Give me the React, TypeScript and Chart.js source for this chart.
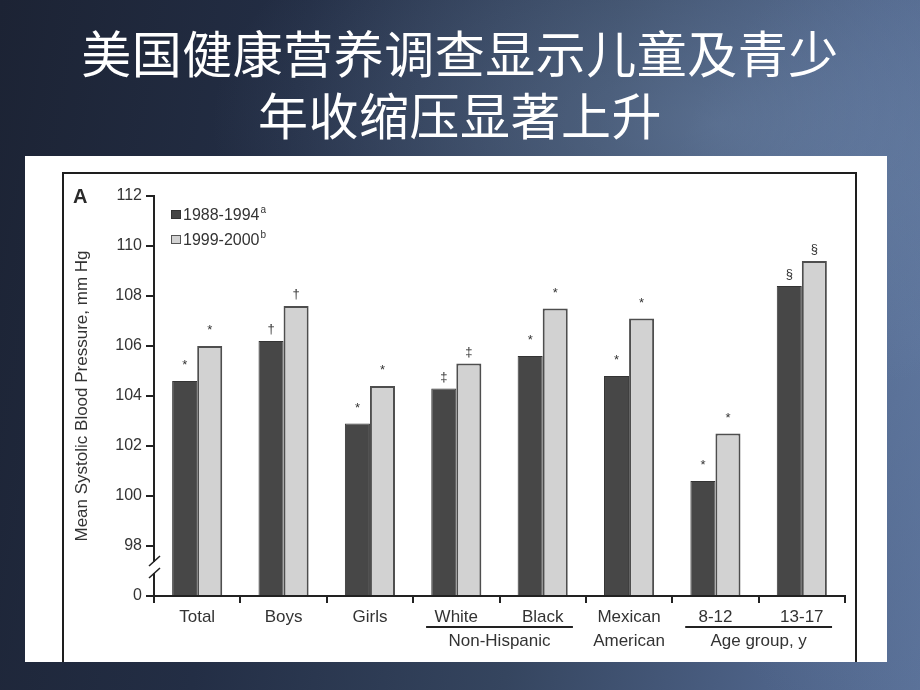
import React, { useEffect, useRef } from 'react';
import { Chart, registerables } from 'chart.js';

Chart.register(...registerables);

// ---- data ----
const titleLines = ['美国健康营养调查显示儿童及青少', '年收缩压显著上升'];
const categories = ['Total', 'Boys', 'Girls', 'White', 'Black', 'Mexican', '8-12', '13-17'];
const seriesNames = ['1988-1994', '1999-2000'];
const seriesSup = ['a', 'b'];
const values1988 = [104.6, 106.2, 102.9, 104.3, 105.6, 104.8, 100.6, 108.4];
const values1999 = [106.0, 107.6, 104.4, 105.3, 107.5, 107.1, 102.5, 109.4];
const marks1988 = ['*', '†', '*', '‡', '*', '*', '*', '§'];
const marks1999 = ['*', '†', '*', '‡', '*', '*', '*', '§'];
const yMin = 96;
const yMax = 112;
const yStep = 2;
const yBreakLabel = '0';
const yTitle = 'Mean Systolic Blood Pressure, mm Hg';
const panelLetter = 'A';
const groupNames = ['Non-Hispanic', 'American', 'Age group, y'];
const groupFrom = [3, 5, 6];
const groupTo = [4, 5, 7];
const groupUnderline = [true, false, true];

const FONT = '"Liberation Sans", Arial, Helvetica, sans-serif';
const TEXT = '#333333';
const AXIS = '#222222';

const overlayPlugin = {
  id: 'overlay',
  afterDatasetsDraw(chart: any) {
    const ctx = chart.ctx as CanvasRenderingContext2D;
    const area = chart.chartArea;
    const xs = chart.scales.x;
    const ys = chart.scales.y;
    ctx.save();

    // significance marks
    [marks1988, marks1999].forEach((marks, di) => {
      const meta = chart.getDatasetMeta(di);
      meta.data.forEach((bar: any, i: number) => {
        const m = marks[i];
        const off = m === '*' ? 12 : 8;
        ctx.font = `13px ${FONT}`;
        ctx.fillStyle = TEXT;
        ctx.textAlign = 'center';
        ctx.textBaseline = 'alphabetic';
        ctx.fillText(m, bar.x, bar.y - off);
      });
    });

    // axis break
    const ax = area.left;
    const c = ys.getPixelForValue(97.16);
    ctx.fillStyle = '#ffffff';
    ctx.fillRect(ax - 3, c - 5, 7, 11);
    ctx.strokeStyle = AXIS;
    ctx.lineWidth = 1.6;
    ctx.beginPath();
    ctx.moveTo(ax - 5, c - 1);
    ctx.lineTo(ax + 6, c - 11);
    ctx.moveTo(ax - 5, c + 11);
    ctx.lineTo(ax + 6, c + 1);
    ctx.stroke();

    // group labels
    const catW = (area.right - area.left) / categories.length;
    groupNames.forEach((name, g) => {
      const x1 = xs.getPixelForValue(groupFrom[g]);
      const x2 = xs.getPixelForValue(groupTo[g]);
      const cx = (x1 + x2) / 2;
      ctx.font = `17px ${FONT}`;
      ctx.fillStyle = TEXT;
      ctx.textAlign = 'center';
      ctx.textBaseline = 'middle';
      ctx.fillText(name, cx, area.bottom + 45);
      if (groupUnderline[g]) {
        ctx.strokeStyle = AXIS;
        ctx.lineWidth = 2;
        ctx.beginPath();
        ctx.moveTo(x1 - catW * 0.35, area.bottom + 31);
        ctx.lineTo(x2 + catW * 0.35, area.bottom + 31);
        ctx.stroke();
      }
    });

    // legend
    const lx = area.left + 17;
    const fills = ['#464646', '#d2d2d2'];
    seriesNames.forEach((name, i) => {
      const ty = area.top + 24 + i * 25;
      ctx.fillStyle = fills[i];
      ctx.fillRect(lx, ty - 10, 10, 9);
      ctx.strokeStyle = i === 0 ? '#333' : '#555';
      ctx.lineWidth = 1;
      ctx.strokeRect(lx + 0.5, ty - 9.5, 9, 8);
      ctx.font = `16px ${FONT}`;
      ctx.fillStyle = TEXT;
      ctx.textAlign = 'left';
      ctx.textBaseline = 'alphabetic';
      ctx.fillText(name, lx + 12, ty);
      const w = ctx.measureText(name).width;
      ctx.font = `10px ${FONT}`;
      ctx.fillText(seriesSup[i], lx + 12 + w + 1, ty - 7);
    });

    // panel letter
    ctx.font = `bold 20px ${FONT}`;
    ctx.fillStyle = '#2a2a2a';
    ctx.textAlign = 'left';
    ctx.textBaseline = 'alphabetic';
    ctx.fillText(panelLetter, 48, 47);

    ctx.restore();
  },
};

function BarChart() {
  const ref = useRef<HTMLCanvasElement | null>(null);
  useEffect(() => {
    if (!ref.current) return;
    const chart = new Chart(ref.current, {
      type: 'bar',
      data: {
        labels: categories,
        datasets: [
          {
            label: seriesNames[0],
            data: values1988,
            base: yMin,
            backgroundColor: '#474747',
            borderColor: '#343434',
            borderWidth: 1,
            barPercentage: 1,
            categoryPercentage: 0.58,
          },
          {
            label: seriesNames[1],
            data: values1999,
            base: yMin,
            backgroundColor: '#d2d2d2',
            borderColor: '#4e4e4e',
            borderWidth: 2,
            barPercentage: 1,
            categoryPercentage: 0.58,
          },
        ],
      } as any,
      options: {
        animation: false,
        responsive: false,
        devicePixelRatio: 1,
        layout: { padding: { left: 40, top: 40, right: 42, bottom: 0 } },
        plugins: {
          legend: { display: false },
          tooltip: { enabled: false },
          title: { display: false },
        },
        scales: {
          x: {
            afterFit: (s: any) => {
              s.height = 66;
            },
            border: { display: true, color: AXIS, width: 2 },
            grid: {
              offset: true,
              drawOnChartArea: false,
              drawTicks: true,
              tickLength: 7,
              color: AXIS,
              lineWidth: 2,
            },
            ticks: {
              color: TEXT,
              font: { family: FONT, size: 17 },
              padding: 4,
              maxRotation: 0,
              autoSkip: false,
            },
          },
          y: {
            min: yMin,
            max: yMax,
            afterFit: (s: any) => {
              s.width = 89;
            },
            border: { display: true, color: AXIS, width: 2 },
            grid: {
              drawOnChartArea: false,
              drawTicks: true,
              tickLength: 8,
              color: AXIS,
              lineWidth: 2,
            },
            ticks: {
              stepSize: yStep,
              color: TEXT,
              font: { family: FONT, size: 16 },
              padding: 4,
              callback: (v: any) => (Number(v) === yMin ? yBreakLabel : String(v)),
            },
            title: {
              display: true,
              text: yTitle,
              color: TEXT,
              font: { family: FONT, size: 17 },
              padding: { top: 7, bottom: 0 },
            },
          },
        },
      } as any,
      plugins: [overlayPlugin],
    });
    return () => chart.destroy();
  }, []);
  return <canvas ref={ref} width={862} height={506} style={{ display: 'block', width: 862, height: 506 }} />;
}

export default function App() {
  return (
    <div
      style={{
        position: 'fixed',
        left: 0,
        top: 0,
        width: 920,
        height: 690,
        overflow: 'hidden',
        background:
          'radial-gradient(ellipse 55% 40% at 78% 18%, rgba(120,145,180,0.45), rgba(120,145,180,0) 100%),' +
          'radial-gradient(ellipse 30% 60% at 100% 50%, rgba(100,125,165,0.5), rgba(100,125,165,0) 100%),' +
          'linear-gradient(100deg, #1c2334 0%, #232e45 30%, #35455f 60%, #4d6287 85%, #5a7198 100%)',
      }}
    >
      <div
        style={{
          position: 'absolute',
          left: 0,
          top: 20,
          width: 920,
          textAlign: 'center',
          color: '#ffffff',
          fontFamily: '"Noto Sans CJK SC", sans-serif',
          fontSize: 50,
          lineHeight: '62px',
          letterSpacing: 0.5,
        }}
      >
        {titleLines.map((t, i) => (
          <div key={i}>{t}</div>
        ))}
      </div>
      <div
        style={{
          position: 'absolute',
          left: 25,
          top: 156,
          width: 862,
          height: 506,
          background: '#ffffff',
          overflow: 'hidden',
        }}
      >
        <div
          style={{
            position: 'absolute',
            left: 37,
            top: 16,
            width: 795,
            height: 490,
            borderLeft: '2px solid #1e1e1e',
            borderTop: '2px solid #1e1e1e',
            borderRight: '2px solid #1e1e1e',
            boxSizing: 'border-box',
          }}
        />
        <div style={{ position: 'absolute', left: 0, top: 0 }}>
          <BarChart />
        </div>
      </div>
    </div>
  );
}
